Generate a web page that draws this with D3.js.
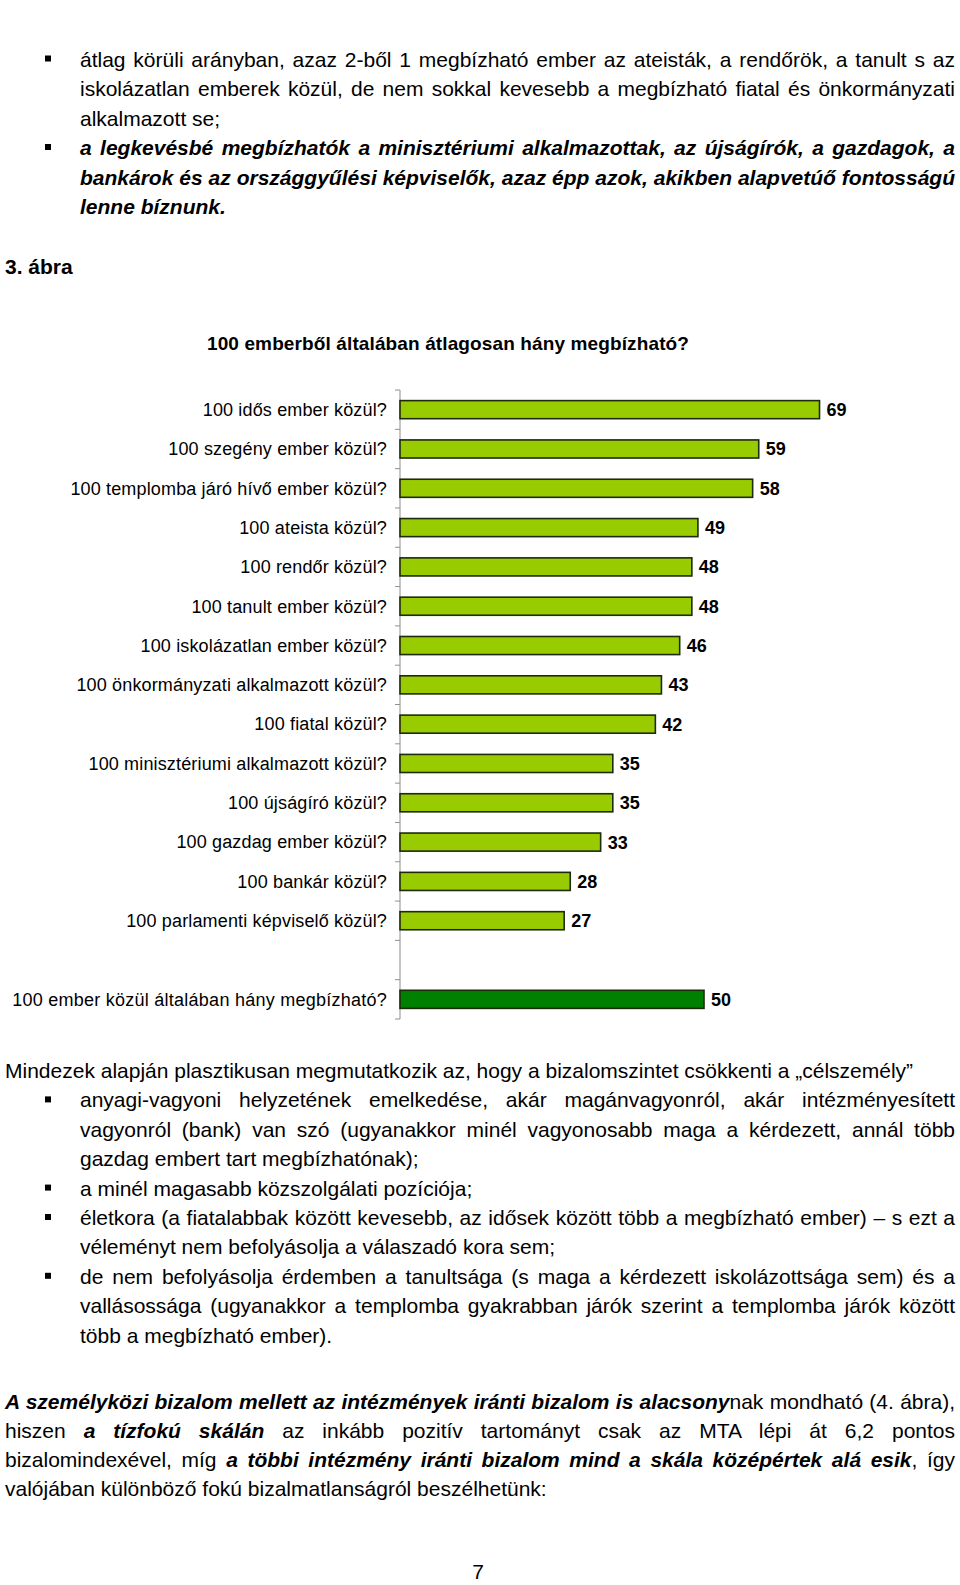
<!DOCTYPE html>
<html><head><meta charset="utf-8">
<script src="https://cdn.jsdelivr.net/npm/d3@7"></script>
<style>
html,body{margin:0;padding:0;background:#fff;}
svg{display:block;font-family:"Liberation Sans",Arial,sans-serif;}
</style></head>
<body>
<svg id="page" width="960" height="1585"></svg>
<script>
// ---- chart data ----
const chartTitle = "100 emberből általában átlagosan hány megbízható?";
const categories = [
  "100 idős ember közül?",
  "100 szegény ember közül?",
  "100 templomba járó hívő ember közül?",
  "100 ateista közül?",
  "100 rendőr közül?",
  "100 tanult ember közül?",
  "100 iskolázatlan ember közül?",
  "100 önkormányzati alkalmazott közül?",
  "100 fiatal közül?",
  "100 minisztériumi alkalmazott közül?",
  "100 újságíró közül?",
  "100 gazdag ember közül?",
  "100 bankár közül?",
  "100 parlamenti képviselő közül?"
];
const values = [69, 59, 58, 49, 48, 48, 46, 43, 42, 35, 35, 33, 28, 27];
const totalCategory = ["100 ember közül általában hány megbízható?"];
const totalValue = [50];

// ---- surrounding text ----
const textBefore = [
  {b:1, x:80, j:1, s:[["átlag körüli arányban, azaz 2-ből 1 megbízható ember az ateisták, a rendőrök, a tanult s az",0]]},
  {x:80, j:1, s:[["iskolázatlan emberek közül, de nem sokkal kevesebb a megbízható fiatal és önkormányzati",0]]},
  {x:80, j:0, s:[["alkalmazott se;",0]]},
  {b:1, x:80, j:1, s:[["a legkevésbé megbízhatók a minisztériumi alkalmazottak, az újságírók, a gazdagok, a",1]]},
  {x:80, j:1, s:[["bankárok és az országgyűlési képviselők, azaz épp azok, akikben alapvetúő fontosságú",1]]},
  {x:80, j:0, s:[["lenne bíznunk.",1]]}
];
const textAfter = [
  {x:5, j:0, s:[["Mindezek alapján plasztikusan megmutatkozik az, hogy a bizalomszintet csökkenti a „célszemély”",0]]},
  {b:1, x:80, j:1, s:[["anyagi-vagyoni helyzetének emelkedése, akár magánvagyonról, akár intézményesített",0]]},
  {x:80, j:1, s:[["vagyonról (bank) van szó (ugyanakkor minél vagyonosabb maga a kérdezett, annál több",0]]},
  {x:80, j:0, s:[["gazdag embert tart megbízhatónak);",0]]},
  {b:1, x:80, j:0, s:[["a minél magasabb közszolgálati pozíciója;",0]]},
  {b:1, x:80, j:1, s:[["életkora (a fiatalabbak között kevesebb, az idősek között több a megbízható ember) – s ezt a",0]]},
  {x:80, j:0, s:[["véleményt nem befolyásolja a válaszadó kora sem;",0]]},
  {b:1, x:80, j:1, s:[["de nem befolyásolja érdemben a tanultsága (s maga a kérdezett iskolázottsága sem) és a",0]]},
  {x:80, j:1, s:[["vallásossága (ugyanakkor a templomba gyakrabban járók szerint a templomba járók között",0]]},
  {x:80, j:0, s:[["több a megbízható ember).",0]]}
];
const textLast = [
  {x:5, j:1, s:[["A személyközi bizalom mellett az intézmények iránti bizalom is alacsony",1],["nak mondható (4. ábra),",0]]},
  {x:5, j:1, s:[["hiszen ",0],["a tízfokú skálán",1],[" az inkább pozitív tartományt csak az MTA lépi át 6,2 pontos",0]]},
  {x:5, j:1, s:[["bizalomindexével, míg ",0],["a többi intézmény iránti bizalom mind a skála középértek alá esik",1],[", így",0]]},
  {x:5, j:0, s:[["valójában különböző fokú bizalmatlanságról beszélhetünk:",0]]}
];

const svg = d3.select("#page");
const RIGHT = 955, FS = 21;

function drawLines(lines, y0, step) {
  lines.forEach((ln, i) => {
    const y = y0 + i * step;
    const t = svg.append("text").attr("x", ln.x).attr("y", y)
      .attr("font-size", FS).attr("fill", "#000").attr("xml:space", "preserve");
    ln.s.forEach(([str, bi]) => {
      const ts = t.append("tspan").text(str);
      if (bi) ts.attr("font-weight", "bold").attr("font-style", "italic");
    });
    if (ln.j) {
      const full = ln.s.map(d => d[0]).join("");
      const spaces = (full.match(/ /g) || []).length;
      const w = t.node().getComputedTextLength();
      if (spaces > 0) t.attr("word-spacing", ((RIGHT - ln.x) - w) / spaces);
    }
    if (ln.b) {
      svg.append("rect").attr("x", 45).attr("y", y - 11).attr("width", 6).attr("height", 6).attr("fill", "#000");
    }
  });
}

drawLines(textBefore, 66.5, 29.5);
svg.append("text").attr("x", 5).attr("y", 274).attr("font-size", FS)
  .attr("font-weight", "bold").text("3. ábra");
drawLines(textAfter, 1078, 29.4);
drawLines(textLast, 1408.5, 29.3);
svg.append("text").attr("x", 478).attr("y", 1579).attr("font-size", FS)
  .attr("text-anchor", "middle").text("7");

// ---- chart ----
const domainY = categories.concat([" "], totalCategory);
const y = d3.scaleBand().domain(domainY).range([390, 1019]).paddingInner(0.54).paddingOuter(0.27);
const x = d3.scaleLinear().domain([0, 100]).range([400, 1008]);

svg.append("text").attr("x", 448).attr("y", 350).attr("text-anchor", "middle")
  .attr("font-size", 19).attr("font-weight", "bold").attr("letter-spacing", 0.12).text(chartTitle);

const g = svg.append("g");
// axis line + ticks at band boundaries
const step = y.step();
const r0 = y.range()[0];
g.append("line").attr("x1", x(0)).attr("x2", x(0)).attr("y1", r0).attr("y2", y.range()[1])
  .attr("stroke", "#a8a8a8").attr("stroke-width", 1.3);
d3.range(domainY.length + 1).forEach(k => {
  g.append("line").attr("x1", x(0) - 5).attr("x2", x(0)).attr("y1", r0 + k * step).attr("y2", r0 + k * step)
    .attr("stroke", "#909090").attr("stroke-width", 1);
});

const rows = categories.map((c, i) => ({c, v: values[i], fill: "#99cc00", ls: 0.15}))
  .concat(totalCategory.map((c, i) => ({c, v: totalValue[i], fill: "#008000", ls: 0.25})));

g.selectAll("rect.bar").data(rows).join("rect").attr("class", "bar")
  .attr("x", x(0)).attr("y", d => y(d.c)).attr("width", d => x(d.v) - x(0)).attr("height", y.bandwidth())
  .attr("fill", d => d.fill).attr("stroke", "#1e2a0c").attr("stroke-width", 1.6);

g.selectAll("text.cat").data(rows).join("text").attr("class", "cat")
  .attr("x", 387).attr("y", d => y(d.c) + y.bandwidth() / 2).attr("dy", "0.35em")
  .attr("text-anchor", "end").attr("font-size", 18).attr("letter-spacing", d => d.ls).text(d => d.c);

g.selectAll("text.val").data(rows).join("text").attr("class", "val")
  .attr("x", d => x(d.v) + 7).attr("y", d => y(d.c) + y.bandwidth() / 2).attr("dy", "0.36em")
  .attr("font-size", 18).attr("font-weight", "bold").text(d => d.v);
</script>
</body></html>
